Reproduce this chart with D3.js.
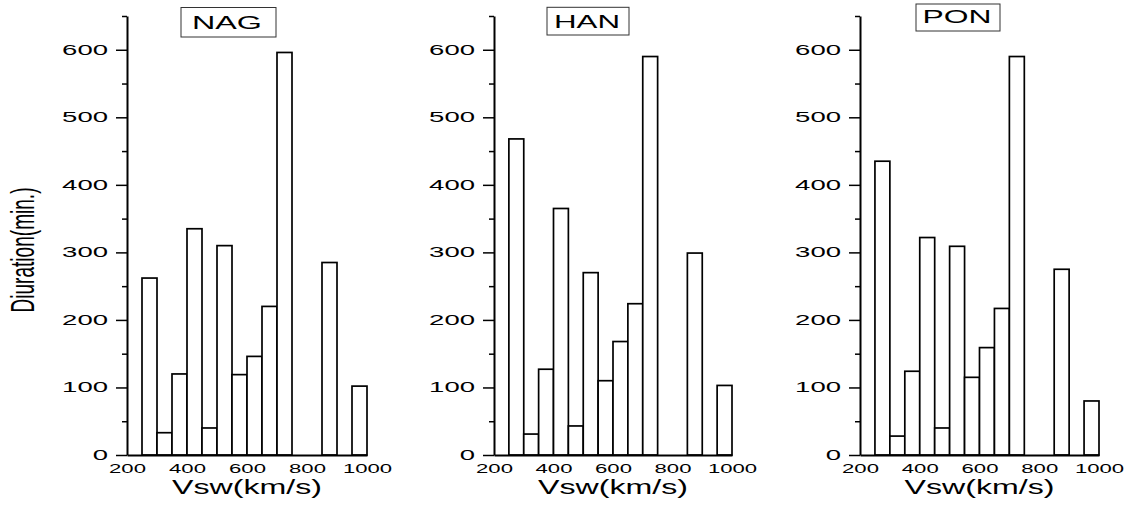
<!DOCTYPE html>
<html>
<head>
<meta charset="utf-8">
<script src="https://cdn.jsdelivr.net/npm/d3@7"></script>
<style>
  body { margin: 0; background: #fff; }
  svg { display: block; font-family: "Liberation Sans", Arial, sans-serif; }
</style>
</head>
<body>
<svg id="chart" width="1135" height="506"></svg>
<script>
// histogram bins of solar wind speed, 50 km/s wide
const binEdges = [250, 300, 350, 400, 450, 500, 550, 600, 650, 700, 750, 800, 850, 900, 950, 1000];
const stations = ["NAG", "HAN", "PON"];
const nagValues = [262, 33, 120, 335, 40, 310, 119, 146, 220, 596, 0, 0, 285, 0, 102];
const hanValues = [468, 31, 127, 365, 43, 270, 110, 168, 224, 590, 0, 0, 299, 0, 103];
const ponValues = [435, 28, 124, 322, 40, 309, 115, 159, 217, 590, 0, 0, 275, 0, 80];
const xTicks = [200, 400, 600, 800, 1000];
const yTicks = [0, 100, 200, 300, 400, 500, 600];
const yMinorTicks = [50, 150, 250, 350, 450, 550, 650];
const xDomain = [200, 1000];
const yDomain = [0, 650];

const seriesByStation = { NAG: nagValues, HAN: hanValues, PON: ponValues };

// layout of each panel (plot box + title box), in px
const panels = [
    { left: 127, right: 367, title: { x: 181, y: 7.5, w: 95, h: 29.5, tx: 227, ty: 28.5, tw: 70 } },
    { left: 494, right: 732, title: { x: 547, y: 7.3, w: 82, h: 27.7, tx: 587, ty: 28.3, tw: 66 } },
    { left: 860, right: 1099, title: { x: 916, y: 4, w: 84, h: 27, tx: 957, ty: 23.3, tw: 69 } }
];
const plotTop = 16, plotBottom = 455;
const fmt = d3.format("d");

const svg = d3.select("#chart");

stations.forEach((name, i) => {
    const p = panels[i];
    const values = seriesByStation[name];

    const x = d3.scaleLinear().domain(xDomain).range([p.left, p.right]);
    const y = d3.scaleLinear().domain(yDomain).range([plotBottom, plotTop]);

    const g = svg.append("g").attr("class", "panel");

    // bars
    g.append("g")
        .selectAll("rect")
        .data(values)
        .enter().append("rect")
        .attr("x", (d, j) => x(binEdges[j]))
        .attr("width", (d, j) => x(binEdges[j + 1]) - x(binEdges[j]))
        .attr("y", d => y(d))
        .attr("height", d => y(0) - y(d))
        .attr("fill", "#fff")
        .attr("stroke", "#000")
        .attr("stroke-width", 1.7);

    // minor y ticks
    g.append("g")
        .attr("transform", `translate(${p.left},0)`)
        .call(d3.axisLeft(y).tickValues(yMinorTicks).tickSize(5).tickFormat(""))
        .call(a => a.select(".domain").remove())
        .selectAll("line").attr("stroke-width", 1.5);

    // major y ticks + labels
    const yAxis = g.append("g")
        .attr("transform", `translate(${p.left},0)`)
        .call(d3.axisLeft(y).tickValues(yTicks).tickFormat(fmt).tickSize(11).tickPadding(8).tickSizeOuter(0));
    yAxis.select(".domain").attr("stroke-width", 2);
    yAxis.selectAll("line").attr("stroke-width", 1.5);
    yAxis.selectAll("text")
        .attr("font-size", 14)
        .attr("fill", "#000")
        .attr("font-family", "Liberation Sans, Arial, sans-serif")
        .attr("textLength", d => fmt(d).length * 15.3)
        .attr("lengthAdjust", "spacingAndGlyphs");

    // x axis
    const xAxis = g.append("g")
        .attr("transform", `translate(0,${plotBottom})`)
        .call(d3.axisBottom(x).tickValues(xTicks).tickFormat(fmt).tickSize(0).tickPadding(8).tickSizeOuter(0));
    xAxis.select(".domain").attr("stroke-width", 2);
    xAxis.selectAll("text")
        .attr("font-size", 13.5)
        .attr("fill", "#000")
        .attr("font-family", "Liberation Sans, Arial, sans-serif")
        .attr("textLength", d => fmt(d).length * 12.3)
        .attr("lengthAdjust", "spacingAndGlyphs");

    // x label
    g.append("text")
        .attr("x", (p.left + p.right) / 2)
        .attr("y", 494)
        .attr("text-anchor", "middle")
        .attr("font-size", 21)
        .attr("textLength", 150)
        .attr("lengthAdjust", "spacingAndGlyphs")
        .text("Vsw(km/s)");

    // boxed station title
    g.append("rect")
        .attr("x", p.title.x).attr("y", p.title.y)
        .attr("width", p.title.w).attr("height", p.title.h)
        .attr("fill", "#fff")
        .attr("stroke", "#333")
        .attr("stroke-width", 1);
    g.append("text")
        .attr("x", p.title.tx)
        .attr("y", p.title.ty)
        .attr("text-anchor", "middle")
        .attr("font-size", 19)
        .attr("textLength", p.title.tw)
        .attr("lengthAdjust", "spacingAndGlyphs")
        .text(name);
});

// y label, only on the first panel (condensed look)
svg.append("text")
    .attr("transform", "translate(34,250) scale(1.7,1) rotate(-90)")
    .attr("text-anchor", "middle")
    .attr("font-size", 19)
    .attr("textLength", 125)
    .attr("lengthAdjust", "spacingAndGlyphs")
    .text("Diuration(min.)");
</script>
</body>
</html>
